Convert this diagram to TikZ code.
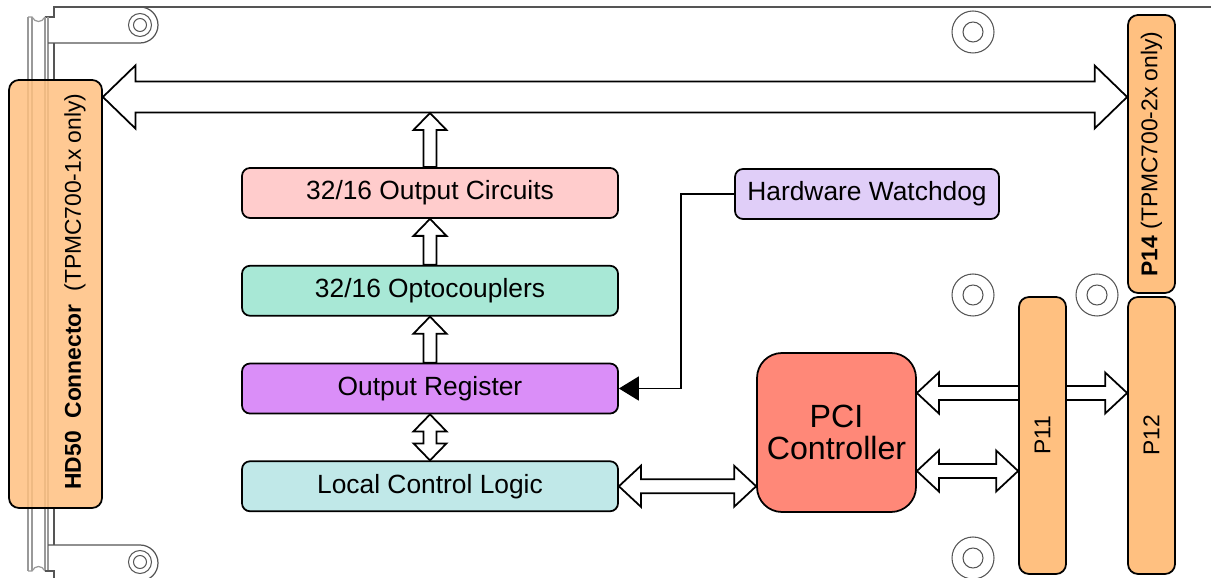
\documentclass[tikz,border=0pt]{standalone}
\usepackage{fontspec}
\setmainfont{Liberation Sans}
\usepackage{graphicx}
\usepackage{tikz}
\usetikzlibrary{arrows.meta}
\usetikzlibrary{calc,positioning}
\definecolor{outcol}{HTML}{FFCCCC}
\definecolor{optocol}{HTML}{A8E8D6}
\definecolor{regcol}{HTML}{DA8EF8}
\definecolor{logiccol}{HTML}{C0E8E8}
\definecolor{dogcol}{HTML}{E0CEF8}
\definecolor{pcicol}{HTML}{FF8878}
\definecolor{conncol}{HTML}{FFC080}
\definecolor{boardcol}{HTML}{555555}
\definecolor{railcol}{HTML}{999999}

\begin{document}
\begin{tikzpicture}[line width=1pt, node distance=0.92cm,
    block/.style = {draw, rounded corners=0.16cm, minimum width=7.52cm, minimum height=1cm,
        inner sep=0pt, font=\fontsize{15}{18}\selectfont},
    conn/.style = {draw, fill=conncol, rounded corners=0.2cm, inner sep=0pt,
        font=\fontsize{13}{15}\selectfont},
    board/.style = {draw=boardcol, line width=0.7pt},
    rail/.style = {draw=railcol, line width=0.7pt},
    hole/.style = {draw=boardcol, line width=0.6pt},
    wire/.style = {-{Triangle[length=0.4cm, width=0.48cm]}},
    bidir/.style n args={3}{draw, fill=white, line join=miter, to path={
        -- ($(\tikztostart)!#3!(\tikztotarget)!#2!90:(\tikztotarget)$)
        -- ($(\tikztostart)!#3!(\tikztotarget)!#1!90:(\tikztotarget)$)
        -- ($(\tikztotarget)!#3!(\tikztostart)!#1!-90:(\tikztostart)$)
        -- ($(\tikztotarget)!#3!(\tikztostart)!#2!-90:(\tikztostart)$)
        -- (\tikztotarget)
        -- ($(\tikztotarget)!#3!(\tikztostart)!#2!90:(\tikztostart)$)
        -- ($(\tikztotarget)!#3!(\tikztostart)!#1!90:(\tikztostart)$)
        -- ($(\tikztostart)!#3!(\tikztotarget)!#1!-90:(\tikztotarget)$)
        -- ($(\tikztostart)!#3!(\tikztotarget)!#2!-90:(\tikztotarget)$)
        -- cycle}},
    unidir/.style n args={3}{draw, fill=white, line join=miter, to path={
        -- ($(\tikztostart)!#1!90:(\tikztotarget)$)
        -- ($(\tikztotarget)!#3!(\tikztostart)!#1!-90:(\tikztostart)$)
        -- ($(\tikztotarget)!#3!(\tikztostart)!#2!-90:(\tikztostart)$)
        -- (\tikztotarget)
        -- ($(\tikztotarget)!#3!(\tikztostart)!#2!90:(\tikztostart)$)
        -- ($(\tikztotarget)!#3!(\tikztostart)!#1!90:(\tikztostart)$)
        -- ($(\tikztostart)!#1!-90:(\tikztotarget)$)
        -- cycle}},
    bigbus/.style = {bidir={0.31cm}{0.63cm}{0.65cm}},
    midbus/.style = {bidir={0.14cm}{0.41cm}{0.44cm}},
    smallbus/.style = {bidir={0.13cm}{0.33cm}{0.34cm}},
    upbus/.style = {unidir={0.13cm}{0.33cm}{0.34cm}}]

    \useasboundingbox (0,0) rectangle (24.22,-11.56);

    % Board outline and front panel
    \begin{scope}
    \clip (0,0) rectangle (24.22,-11.56);
    \draw[board] (24.22,-0.14) -- (1.08,-0.14) -- (1.08,-0.34) -- (0.9,-0.34);
    \draw[rail] (0.9,-0.34) .. controls (0.84,-0.46) and (0.7,-0.46) .. (0.64,-0.34) -- (0.56,-0.34);
    \draw[rail] (0.56,-0.34) -- (0.56,-11.42);
    \draw[rail] (0.64,-0.34) -- (0.64,-11.42);
    \draw[rail] (0.9,-0.34) -- (0.9,-11.42);
    \draw[rail] (0.96,-0.34) -- (0.96,-11.42);
    \draw[rail] (0.56,-11.42) -- (0.64,-11.42) .. controls (0.7,-11.3) and (0.84,-11.3) .. (0.9,-11.42);
    \draw[board] (0.9,-11.42) -- (1.08,-11.42) -- (1.08,-11.7);
    \draw[board] (0.96,-0.86) -- (2.8,-0.86) arc[start angle=-90, end angle=90, radius=0.36];
    \draw[board] (1.08,-0.86) -- (1.08,-1.6);
    \draw[board] (1.08,-10.16) -- (1.08,-10.9);
    \draw[board] (0.96,-10.9) -- (2.8,-10.9) arc[start angle=90, end angle=-90, radius=0.36];
    \end{scope}

    % Mounting holes
    \draw[hole] (2.8,-0.5) circle[radius=0.23] (2.8,-0.5) circle[radius=0.13];
    \draw[hole] (2.8,-11.24) circle[radius=0.23] (2.8,-11.24) circle[radius=0.13];
    \draw[hole] (19.46,-0.64) circle[radius=0.42] (19.46,-0.64) circle[radius=0.2];
    \draw[hole] (19.46,-5.9) circle[radius=0.42] (19.46,-5.9) circle[radius=0.2];
    \draw[hole] (21.94,-5.9) circle[radius=0.42] (21.94,-5.9) circle[radius=0.2];
    \draw[hole] (19.46,-11.16) circle[radius=0.42] (19.46,-11.16) circle[radius=0.2];

    % Nodes
    \node[conn, fill opacity=0.85, text opacity=1, minimum width=1.86cm, minimum height=8.56cm] (hd50) at (1.11,-5.88) {};
    \node[rotate=90, font=\fontsize{13}{15}\selectfont] (hd50label) at (1.5,-5.83)
        {\textbf{HD50\ \ Connector}\ \ (TPMC700-1x only)};
    \node[conn, minimum width=0.94cm, minimum height=5.56cm] (p14) at (23.03,-3.08)
        {\rotatebox{90}{\textbf{P14} (TPMC700-2x only)}};
    \node[conn, minimum width=0.94cm, minimum height=5.54cm] (p12) at (23.03,-8.71) {\rotatebox{90}{P12}};

    \node[block, fill=outcol] (circ) at (8.6,-3.86) {32/16 Output Circuits};
    \node[block, fill=optocol, below=of circ] (opto) {32/16 Optocouplers};
    \node[block, fill=regcol, below=of opto] (reg) {Output Register};
    \node[block, fill=logiccol, below=of reg] (logic) {Local Control Logic};
    \node[block, fill=dogcol, minimum width=5.28cm] (dog) at (17.34,-3.88) {Hardware Watchdog};
    \node[draw, fill=pcicol, rounded corners=0.5cm, minimum width=3.18cm, minimum height=3.18cm,
        align=center, font=\fontsize{18.3}{18.3}\selectfont] (pci) at (16.73,-8.65) {PCI\\Controller};

    \coordinate (pcitop) at ([yshift=0.79cm]pci.east);
    \coordinate (pcibot) at ([yshift=-0.77cm]pci.east);

    % Edges
    \draw[bigbus] (hd50.east |- 0,-1.94) to (p14.west |- 0,-1.94);
    \draw[upbus] (circ.north) to (circ.north |- 0,-2.26);
    \draw[upbus] (opto.north) to (circ.south);
    \draw[upbus] (reg.north) to (opto.south);
    \draw[smallbus] (logic.north) to (reg.south);
    \draw[midbus] (logic.east) to (pci.west |- logic.east);
    \draw[midbus] (pcitop) to (p12.west |- pcitop);
    \draw[wire] (dog.west) -- ++(-1.06,0) |- (reg.east);

    \node[conn, minimum width=0.94cm, minimum height=5.54cm] (p11) at (20.85,-8.71) {\rotatebox{90}{P11}};
    \draw[midbus] (pcibot) to (p11.west |- pcibot);

\end{tikzpicture}
\end{document}
